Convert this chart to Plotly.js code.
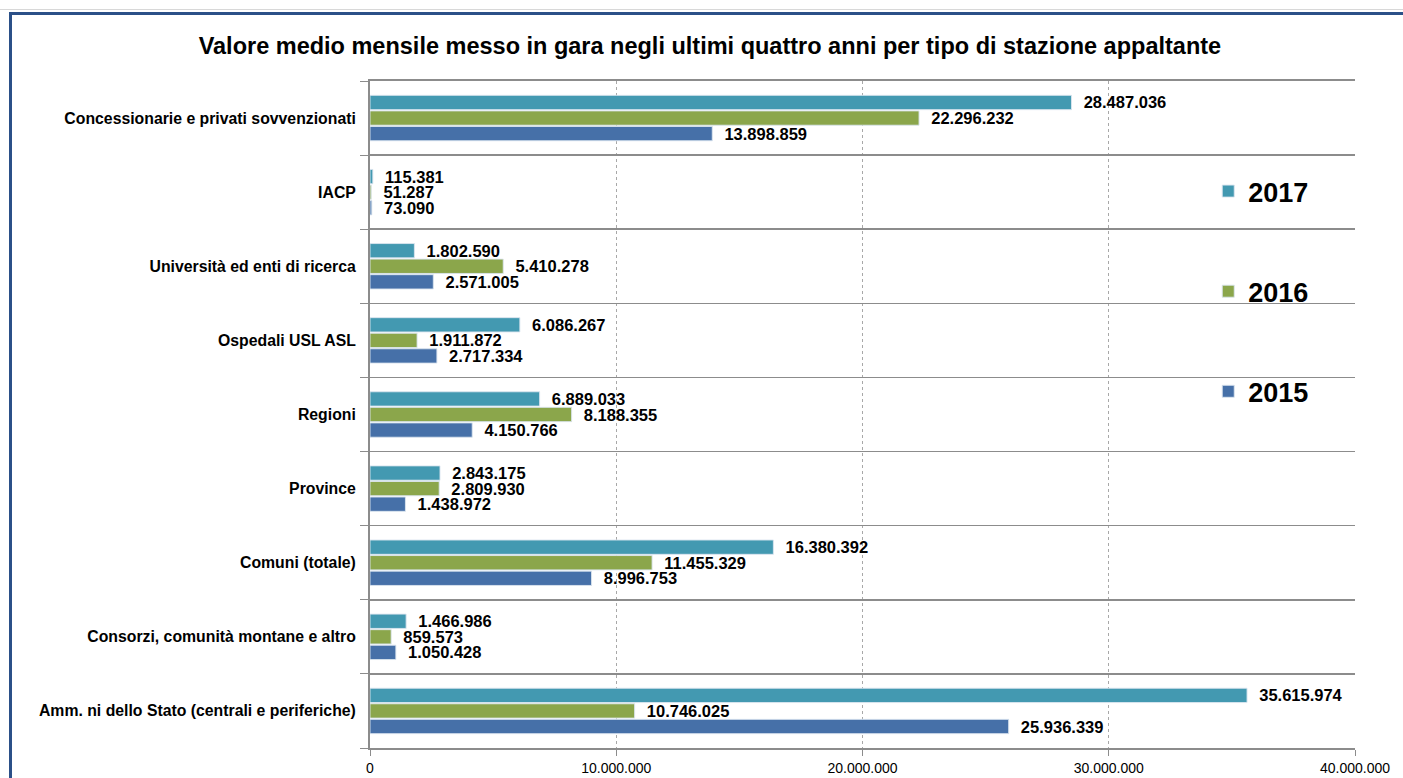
<!DOCTYPE html>
<html>
<head>
<meta charset="utf-8">
<script src="https://cdn.plot.ly/plotly-3.0.1.min.js"></script>
<style>
html,body{margin:0;padding:0;background:#fff;overflow:hidden;}
#frame{position:absolute;left:9px;top:12px;width:1420px;height:800px;border-left:3px solid #2B5088;border-top:3px solid #2B5088;}
#topline{position:absolute;left:0;top:9px;width:1403px;height:1px;background:#d8d8d8;}
#chart{position:absolute;left:0;top:0;width:1403px;height:778px;}
</style>
</head>
<body>
<div id="topline"></div>
<div id="frame"></div>
<div id="chart"></div>
<script>
// categories listed top to bottom as in the picture
const categories = [
  "Concessionarie e privati sovvenzionati",
  "IACP",
  "Università ed enti di ricerca",
  "Ospedali USL ASL",
  "Regioni",
  "Province",
  "Comuni (totale)",
  "Consorzi, comunità montane e altro",
  "Amm. ni dello Stato (centrali e periferiche)"
];
const v2017 = [28487036, 115381, 1802590, 6086267, 6889033, 2843175, 16380392, 1466986, 35615974];
const v2016 = [22296232, 51287, 5410278, 1911872, 8188355, 2809930, 11455329, 859573, 10746025];
const v2015 = [13898859, 73090, 2571005, 2717334, 4150766, 1438972, 8996753, 1050428, 25936339];
const xTicks = [0, 10000000, 20000000, 30000000, 40000000];

const colors = {"2017": "#4399B1", "2016": "#8BA64B", "2015": "#4670A8"};
const ranks = {"2017": 1, "2016": 2, "2015": 3};

function mk(name, vals) {
  return {
    type: "bar", orientation: "h", name: name, legendgroup: name, legendrank: ranks[name],
    y: categories, x: vals,
    marker: {color: colors[name], line: {color: "rgba(220,230,240,0.9)", width: 1}},
    texttemplate: "\u00a0\u00a0%{x:,.0f}", textposition: "outside",
    textfont: {family: "Liberation Sans, Arial, sans-serif", size: 16.5, color: "#000", weight: "bold"},
    constraintext: "none", cliponaxis: false, hoverinfo: "x+y"
  };
}
const data = [mk("2015", v2015), mk("2016", v2016), mk("2017", v2017)];

const layout = {
  width: 1403, height: 778,
  paper_bgcolor: "rgba(0,0,0,0)", plot_bgcolor: "#fff",
  separators: ",.",
  margin: {l: 370, r: 48, t: 81, b: 30, pad: 0},
  font: {family: "Liberation Sans, Arial, sans-serif", color: "#000"},
  title: {text: "Valore medio mensile messo in gara negli ultimi quattro anni per tipo di stazione appaltante",
          font: {size: 23.5, weight: "bold", color: "#000"}, x: 0.506, xanchor: "center", y: 0.941, yanchor: "middle"},
  barmode: "group", bargap: 0.37, bargroupgap: 0.08,
  xaxis: {range: [0, 40000000], tickvals: xTicks, tickformat: ",.0f",
          showgrid: true, gridcolor: "#a8a8a8", griddash: "dot", gridwidth: 1,
          showline: true, linecolor: "#8c8c8c", linewidth: 2, mirror: true,
          ticks: "outside", ticklen: 6, tickcolor: "#8c8c8c",
          tickfont: {size: 14, color: "#000"}, zeroline: false, fixedrange: true},
  yaxis: {type: "category", categoryorder: "array", categoryarray: categories.slice().reverse(),
          tickson: "boundaries", ticks: "outside", ticklen: 8, tickcolor: "#8c8c8c",
          showgrid: true, gridcolor: "#8c8c8c", gridwidth: 1.5,
          showline: true, linecolor: "#8c8c8c", linewidth: 2,
          tickfont: {size: 15.8, weight: "bold", color: "#000"}, ticklabelstandoff: 9, fixedrange: true},
  legend: {x: 0.851, xanchor: "left", y: 0.871, yanchor: "top", traceorder: "grouped",
           tracegroupgap: 62, bgcolor: "rgba(0,0,0,0)", itemwidth: 30,
           font: {size: 27, weight: "bold", color: "#000"}},
  showlegend: true
};
Plotly.newPlot("chart", data, layout, {displayModeBar: false, staticPlot: true});
</script>
</body>
</html>
